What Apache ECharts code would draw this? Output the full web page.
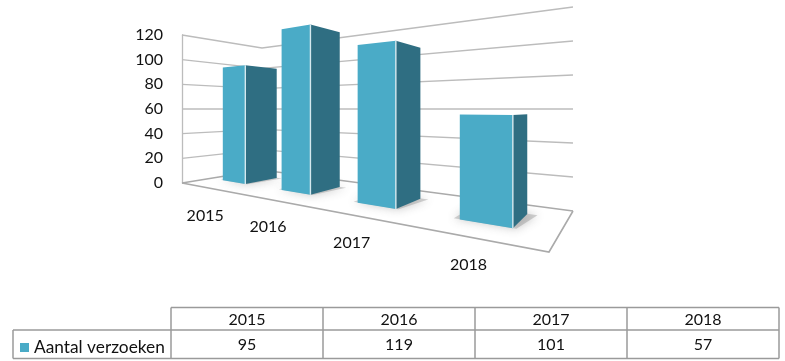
<!DOCTYPE html>
<html>
<head>
<meta charset="utf-8">
<style>
  html, body { margin: 0; padding: 0; background: #fff; }
  #main { width: 785px; height: 361px; }
</style>
<script src="https://cdn.jsdelivr.net/npm/echarts@6/dist/echarts.min.js"></script>
</head>
<body>
<div id="main"></div>
<script>
const seriesName = "Aantal verzoeken";
const years = ["2015", "2016", "2017", "2018"];
const requests = [95, 119, 101, 57];
const yTicks = [0, 20, 40, 60, 80, 100, 120];

const FONT = "Lato";
const TEXT = "#111";
const GRID = { left: 182, top: 35, width: 391, height: 148 };
const HORIZON_Y = 109;

// floor plane homography, unit square -> screen
// corners: (0,0) 182,183  (1,0) 549,252  (1,1) 573,211  (0,1) 262,170
const H = (() => {
  const [x0, y0, x1, y1, x2, y2, x3, y3] = [182, 183, 549, 252, 573, 211, 262, 170];
  const sx = x0 - x1 + x2 - x3, sy = y0 - y1 + y2 - y3;
  const dx1 = x1 - x2, dy1 = y1 - y2, dx2 = x3 - x2, dy2 = y3 - y2;
  const den = dx1 * dy2 - dx2 * dy1;
  const g = (sx * dy2 - dx2 * sy) / den;
  const h = (dx1 * sy - sx * dy1) / den;
  return { a: x1 - x0 + g * x1, b: x3 - x0 + h * x3, c: x0, d: y1 - y0 + g * y1, e: y3 - y0 + h * y3, f: y0, g, h };
})();

// s along the category direction, t into the depth, frac = share of the value axis
function place(s, t, frac) {
  const w = H.g * s + H.h * t + 1;
  const x = (H.a * s + H.b * t + H.c) / w;
  const y = (H.d * s + H.e * t + H.f) / w;
  // the horizon sits at half of the axis, so 2*frac of the distance to it
  return [x, y - (y - HORIZON_Y) * frac * 2];
}

function fracOf(api, v) {
  return (GRID.top + GRID.height - api.coord([0, v])[1]) / GRID.height;
}
// bars are not quite centred in their bands in the picture
function sOf(api, i) {
  return ((api.coord([i, 0])[0] - GRID.left) / GRID.width) * 1.01 - 0.014;
}

function renderWall(params, api) {
  const f = fracOf(api, api.value(1));
  const isFloor = api.value(1) === 0;
  return {
    type: "polyline",
    shape: { points: [place(0, 0, f), place(0, 1, f), place(1, 1, f)] },
    style: { stroke: isFloor ? "#aaa" : "#bcbcbc", lineWidth: isFloor ? 1.6 : 1.3, fill: null },
    silent: true,
  };
}

function renderBar(params, api) {
  const s = sOf(api, api.value(0));
  const f = fracOf(api, api.value(1));
  const s0 = s - 0.052, s1 = s + 0.052, t0 = 0.315, t1 = 0.72;
  const front = [place(s0, t0, 0), place(s1, t0, 0), place(s1, t0, f), place(s0, t0, f)];
  const side = [place(s1, t0, 0), place(s1, t1, 0), place(s1, t1, f), place(s1, t0, f)];
  const foot = [
    place(s0 - 0.014, t0 + 0.01, 0),
    place(s1 + 0.006, t0 + 0.005, 0),
    place(s1 + 0.02, t1 + 0.01, 0),
    place(s0 - 0.014, t1 + 0.01, 0),
  ];
  return {
    type: "group",
    children: [
      {
        type: "polygon",
        shape: { points: foot },
        style: { fill: "rgba(130,130,130,0.35)", shadowBlur: 10, shadowColor: "rgba(70,70,70,0.85)" },
      },
      { type: "polygon", shape: { points: side }, style: { fill: "#2f6e82" } },
      { type: "polygon", shape: { points: front }, style: { fill: "#4aabc7" } },
      {
        type: "line",
        shape: { x1: front[1][0], y1: front[1][1], x2: front[2][0], y2: front[2][1] },
        style: { stroke: "#d5e8ee", lineWidth: 1.4 },
      },
    ],
  };
}

function renderYear(params, api) {
  const p = place(sOf(api, api.value(0)), 0, 0);
  return {
    type: "text",
    x: p[0],
    y: p[1] + 28,
    style: {
      text: years[api.value(0)],
      font: "16px " + FONT,
      fill: TEXT,
      align: "center",
      verticalAlign: "middle",
    },
  };
}

// data table under the chart
const colX = [171, 323, 475, 627, 779];
const rowY = [307.5, 330, 358.5];
const tableLeft = 13;
const tableLine = { stroke: "#9a9a9a", lineWidth: 1.5 };

function tableGraphic() {
  const out = [];
  const line = (x1, y1, x2, y2) =>
    out.push({ type: "line", shape: { x1, y1, x2, y2 }, style: tableLine });
  line(colX[0], rowY[0], colX[4], rowY[0]);
  line(tableLeft, rowY[1], colX[4], rowY[1]);
  line(tableLeft, rowY[2], colX[4], rowY[2]);
  line(tableLeft, rowY[1], tableLeft, rowY[2]);
  colX.forEach((x) => line(x, rowY[0], x, rowY[2]));
  const cell = (text, x, y) =>
    out.push({
      type: "text",
      x,
      y,
      style: { text, font: "16px " + FONT, fill: TEXT, align: "center", verticalAlign: "middle" },
    });
  years.forEach((y, i) => {
    const mid = (colX[i] + colX[i + 1]) / 2;
    cell(y, mid, (rowY[0] + rowY[1]) / 2 + 1);
    cell(String(requests[i]), mid, (rowY[1] + rowY[2]) / 2 + 1);
  });
  return out;
}

const chart = echarts.init(document.getElementById("main"), null, { renderer: "canvas" });
chart.setOption({
  animation: false,
  backgroundColor: "#fff",
  grid: GRID,
  legend: {
    data: [seriesName],
    left: 15,
    top: 334,
    icon: "rect",
    itemWidth: 9,
    itemHeight: 9,
    itemGap: 6,
    selectedMode: false,
    textStyle: { fontFamily: FONT, fontSize: 17.3, color: TEXT },
  },
  xAxis: { type: "category", data: years, show: false },
  yAxis: {
    type: "value",
    min: 0,
    max: 120,
    interval: 20,
    axisLine: { show: true, lineStyle: { color: "#bcbcbc", width: 1.3 } },
    axisTick: { show: false },
    splitLine: { show: false },
    axisLabel: { margin: 19, fontFamily: FONT, fontSize: 16, color: TEXT, padding: [2, 0, 0, 0] },
  },
  graphic: tableGraphic(),
  series: [
    {
      type: "custom",
      z: 1,
      silent: true,
      renderItem: renderWall,
      data: yTicks.map((v) => [0, v]),
    },
    {
      type: "custom",
      z: 1,
      silent: true,
      renderItem: (params, api) => ({
        // outer floor edges towards the viewer
        type: "polyline",
        shape: { points: [place(0, 0, 0), place(1, 0, 0), place(1, 1, 0)] },
        style: { stroke: "#aaa", lineWidth: 1.6, fill: null },
      }),
      data: [[0, 0]],
    },
    {
      name: seriesName,
      type: "custom",
      z: 2,
      itemStyle: { color: "#4aabc7" },
      renderItem: renderBar,
      data: requests.map((v, i) => [i, v]),
    },
    {
      type: "custom",
      z: 3,
      silent: true,
      renderItem: renderYear,
      data: years.map((y, i) => [i, 0]),
    },
  ],
});
</script>
</body>
</html>
